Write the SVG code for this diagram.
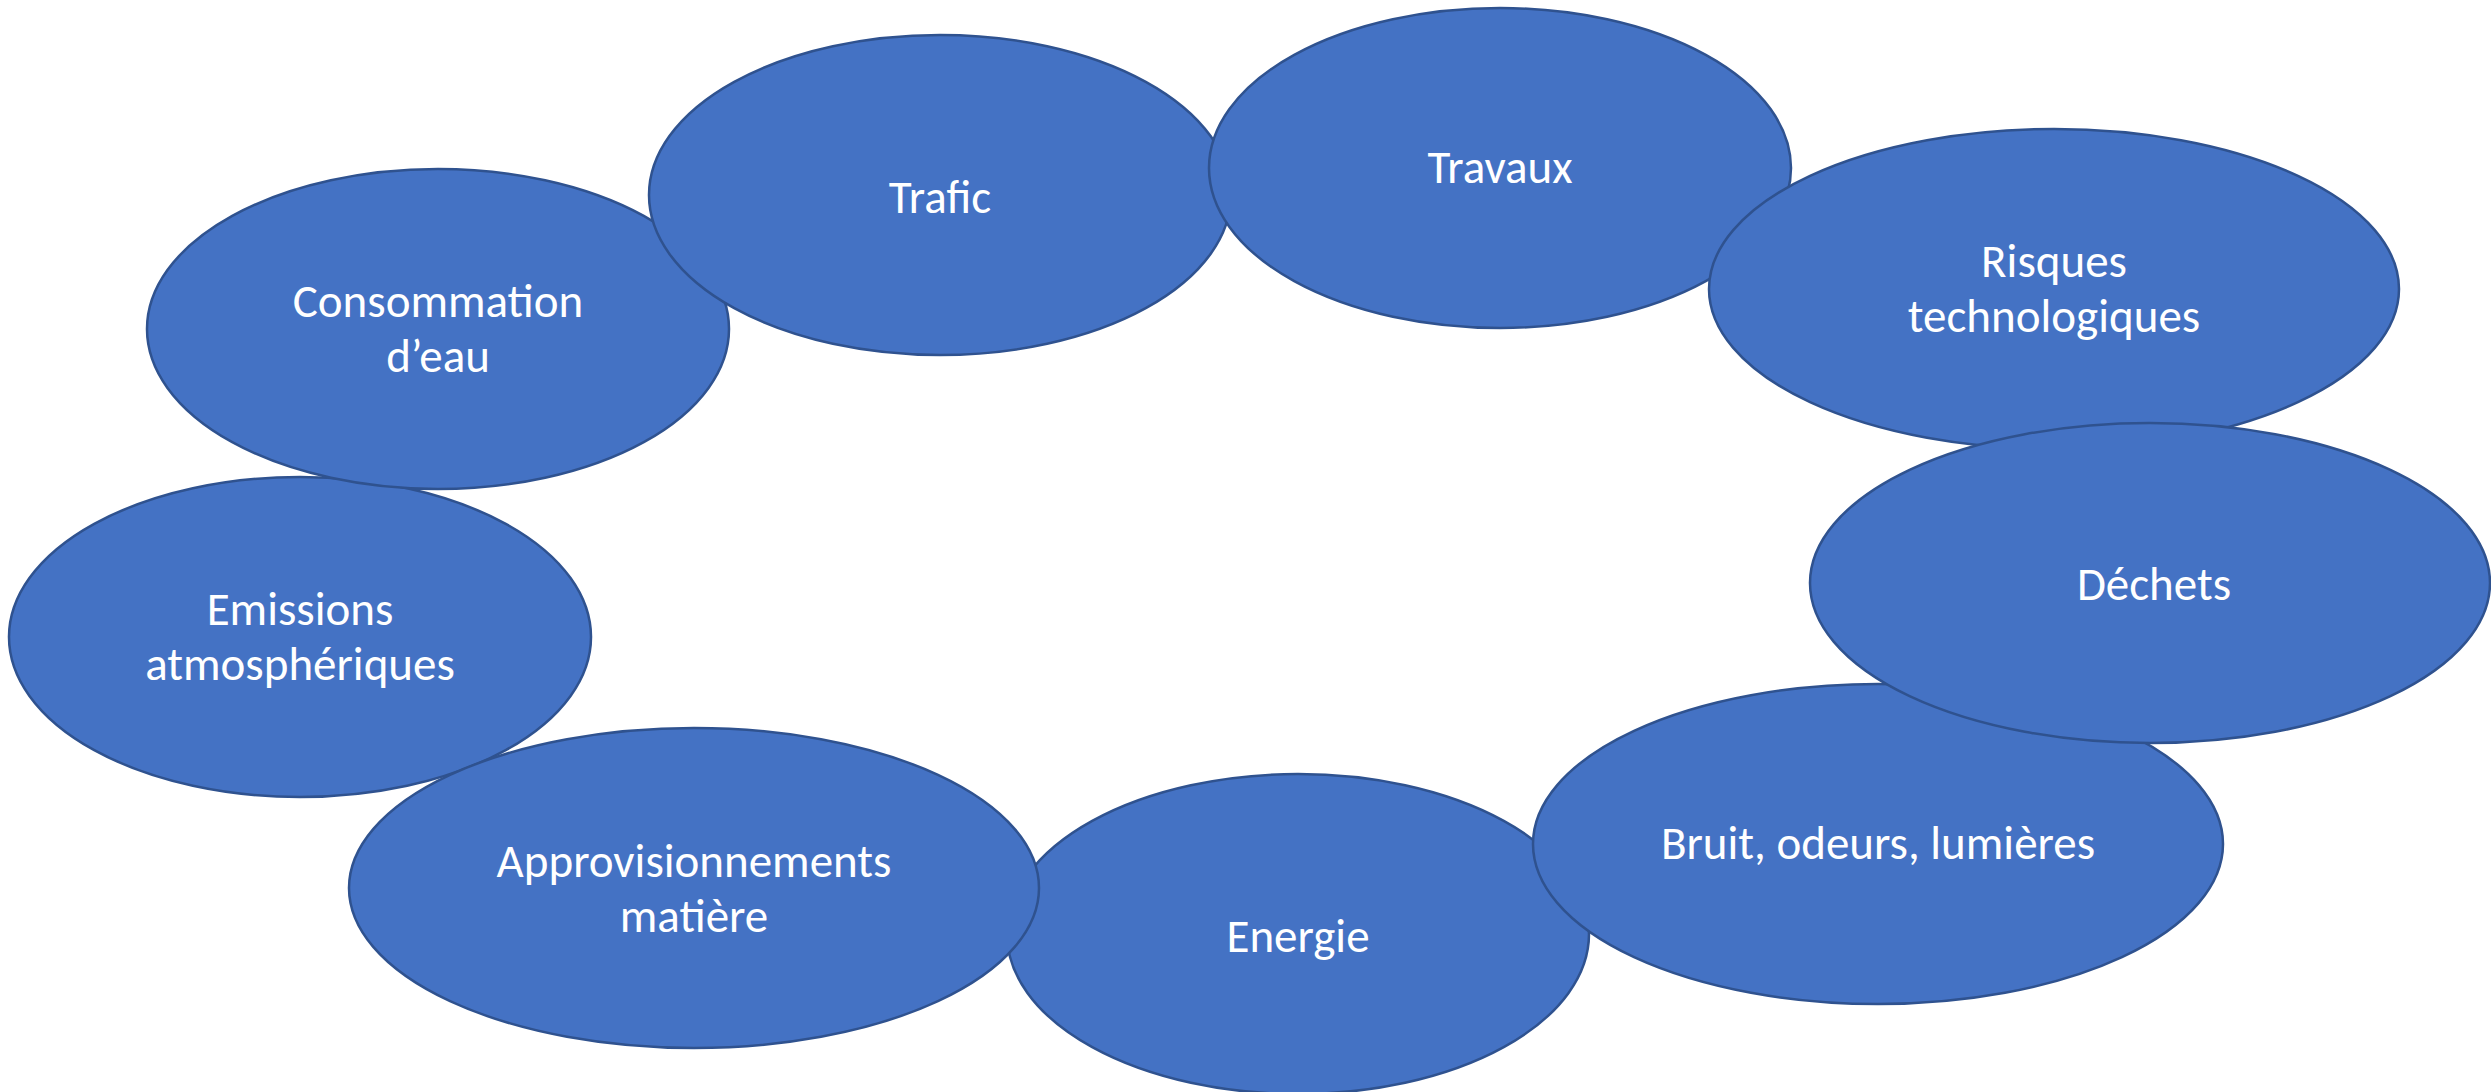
<svg xmlns="http://www.w3.org/2000/svg" width="2491" height="1092" viewBox="0 0 2491 1092">
  <style>
    .bubble { fill: #4472C4; stroke: #2F528F; stroke-width: 2.5; }
    .label { fill: #FFFFFF; font-family: Carlito, Lato, "Open Sans", sans-serif; font-size: 47px; text-anchor: middle; }
  </style>
  <rect x="0" y="0" width="2491" height="1092" fill="#FFFFFF"/>

  <!-- Environmental impact topics arranged in a ring; later groups sit on top -->
  <g id="emissions">
    <ellipse class="bubble" cx="300" cy="637" rx="291" ry="160"/>
    <text class="label" x="300" y="625">Emissions</text>
    <text class="label" x="300" y="680">atmosphériques</text>
  </g>
  <g id="consommation-eau">
    <ellipse class="bubble" cx="438" cy="329" rx="291" ry="160"/>
    <text class="label" x="438" y="317">Consommation</text>
    <text class="label" x="438" y="372">d’eau</text>
  </g>
  <g id="trafic">
    <ellipse class="bubble" cx="940" cy="195" rx="291" ry="160"/>
    <text class="label" x="940" y="213">Trafic</text>
  </g>
  <g id="travaux">
    <ellipse class="bubble" cx="1500" cy="168" rx="291" ry="160"/>
    <text class="label" x="1500" y="183">Travaux</text>
  </g>
  <g id="risques">
    <ellipse class="bubble" cx="2054" cy="289" rx="345" ry="160"/>
    <text class="label" x="2054" y="277">Risques</text>
    <text class="label" x="2054" y="332">technologiques</text>
  </g>
  <g id="energie">
    <ellipse class="bubble" cx="1298" cy="934" rx="291" ry="160"/>
    <text class="label" x="1298" y="952">Energie</text>
  </g>
  <g id="approvisionnements">
    <ellipse class="bubble" cx="694" cy="888" rx="345" ry="160"/>
    <text class="label" x="694" y="877">Approvisionnements</text>
    <text class="label" x="694" y="932">matière</text>
  </g>
  <g id="bruit">
    <ellipse class="bubble" cx="1878" cy="844" rx="345" ry="160"/>
    <text class="label" x="1878" y="859">Bruit, odeurs, lumières</text>
  </g>
  <g id="dechets">
    <ellipse class="bubble" cx="2150" cy="583" rx="340" ry="160"/>
    <text class="label" x="2154" y="600">Déchets</text>
  </g>

  <!-- no connectors in this figure -->
  <g id="connectors"/>
</svg>
